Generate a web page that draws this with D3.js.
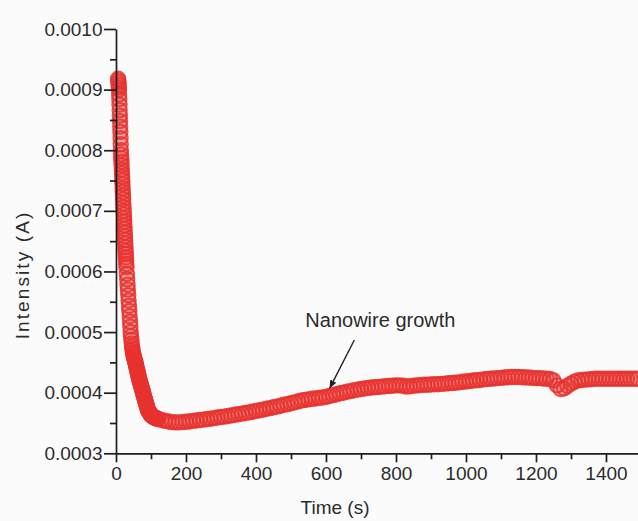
<!DOCTYPE html>
<html>
<head>
<meta charset="utf-8">
<script src="https://cdn.jsdelivr.net/npm/d3@7"></script>
<style>
  body { margin: 0; background: #fbfbfb; }
  svg { display: block; font-family: "Liberation Sans", Arial, sans-serif; }
</style>
</head>
<body>
<svg id="chart" width="638" height="521"></svg>
<script>
// current values are in units of 1e-4 A, time in s
const timeEarly = [6, 6.5, 7, 7.5, 8, 8.5, 9, 9.5, 10, 10.5,
  11, 11.5, 12, 12.5, 13, 13.5, 14, 14.5, 15, 15.5,
  16, 16.5, 17, 17.5, 18, 18.5, 19, 19.5, 20, 20.5,
  21, 21.5, 22, 22.5, 23, 23.5, 24, 24.5, 25, 25.5,
  26, 26.5, 27, 27.5, 28, 28.5, 29, 29.5, 30];
const intensityEarly = [9.18, 9.15, 9.12, 9.08, 9.04, 9.00, 8.92, 8.84, 8.75, 8.66,
  8.57, 8.48, 8.39, 8.30, 8.20, 8.10, 8.00, 7.93, 7.87, 7.81,
  7.75, 7.68, 7.62, 7.56, 7.50, 7.44, 7.37, 7.31, 7.25, 7.19,
  7.12, 7.06, 7.00, 6.94, 6.88, 6.82, 6.76, 6.70, 6.64, 6.58,
  6.52, 6.46, 6.40, 6.34, 6.29, 6.23, 6.18, 6.12, 6.07];

const timeMid = [31, 32, 33, 34, 35, 36, 37, 38, 39, 40,
  41, 42, 43, 44, 45, 46, 47, 48, 49, 50,
  51, 52, 53, 54, 55, 56, 57, 58, 59, 60,
  61, 62, 63, 64, 65, 66, 67, 68, 69, 70,
  71, 72, 73, 74, 75, 76, 77, 78, 79, 80,
  81, 82, 83, 84, 85, 86, 87, 88, 89, 90,
  91, 92, 93, 94, 95, 96, 97, 98, 99, 100,
  102, 104, 106, 108, 110, 112, 114, 116, 118, 120];
const intensityMid = [5.96, 5.87, 5.78, 5.70, 5.61, 5.52, 5.43, 5.35, 5.26, 5.17,
  5.09, 5.00, 4.93, 4.87, 4.81, 4.76, 4.72, 4.68, 4.65, 4.62,
  4.59, 4.57, 4.55, 4.53, 4.51, 4.49, 4.46, 4.43, 4.41, 4.38,
  4.36, 4.33, 4.31, 4.28, 4.26, 4.23, 4.21, 4.19, 4.17, 4.15,
  4.13, 4.11, 4.09, 4.07, 4.05, 4.03, 4.01, 3.98, 3.96, 3.94,
  3.92, 3.90, 3.88, 3.86, 3.84, 3.82, 3.80, 3.78, 3.76, 3.74,
  3.72, 3.71, 3.70, 3.69, 3.68, 3.67, 3.66, 3.65, 3.64, 3.63,
  3.62, 3.61, 3.60, 3.595, 3.59, 3.585, 3.58, 3.575, 3.57, 3.565];

const timeLate = [130, 140, 150, 160, 170, 180, 190, 200,
  210, 220, 230, 240, 250, 260, 270, 280, 290, 300,
  310, 320, 330, 340, 350, 360, 370, 380, 390, 400,
  410, 420, 430, 440, 450, 460, 470, 480, 490, 500,
  510, 520, 530, 540, 550, 560, 570, 580, 590, 600,
  610, 620, 630, 640, 650, 660, 670, 680, 690, 700,
  710, 720, 730, 740, 750, 760, 770, 780, 790, 800,
  810, 820, 830, 840, 850, 860, 870, 880, 890, 900,
  910, 920, 930, 940, 950, 960, 970, 980, 990, 1000,
  1010, 1020, 1030, 1040, 1050, 1060, 1070, 1080, 1090, 1100,
  1110, 1120, 1130, 1140, 1150, 1160, 1170, 1180, 1190, 1200,
  1210, 1220, 1230, 1240, 1250, 1260, 1270, 1280, 1290, 1300,
  1310, 1320, 1330, 1340, 1350, 1360, 1370, 1380, 1390, 1400,
  1410, 1420, 1430, 1440, 1450, 1460, 1470, 1480, 1490];
const intensityLate = [3.55, 3.535, 3.525, 3.515, 3.51, 3.51, 3.515, 3.52,
  3.525, 3.535, 3.54, 3.55, 3.555, 3.565, 3.57, 3.58, 3.59, 3.60,
  3.605, 3.615, 3.625, 3.635, 3.645, 3.655, 3.665, 3.675, 3.685, 3.70,
  3.71, 3.72, 3.735, 3.745, 3.76, 3.77, 3.785, 3.80, 3.81, 3.825,
  3.84, 3.855, 3.87, 3.88, 3.89, 3.90, 3.905, 3.915, 3.92, 3.93,
  3.945, 3.96, 3.975, 3.99, 4.00, 4.015, 4.025, 4.04, 4.05, 4.06,
  4.07, 4.08, 4.085, 4.09, 4.095, 4.10, 4.105, 4.11, 4.115, 4.12,
  4.12, 4.115, 4.10, 4.105, 4.115, 4.12, 4.125, 4.13, 4.13, 4.135,
  4.14, 4.14, 4.145, 4.15, 4.155, 4.16, 4.165, 4.17, 4.18, 4.185,
  4.19, 4.20, 4.205, 4.21, 4.22, 4.225, 4.23, 4.235, 4.24, 4.245,
  4.25, 4.255, 4.26, 4.26, 4.26, 4.255, 4.25, 4.25, 4.245, 4.24,
  4.24, 4.235, 4.23, 4.225, 4.20, 4.12, 4.06, 4.07, 4.11, 4.15,
  4.18, 4.20, 4.21, 4.215, 4.22, 4.225, 4.23, 4.23, 4.23, 4.23,
  4.23, 4.23, 4.23, 4.23, 4.23, 4.23, 4.23, 4.23, 4.23];

const xTicks = [0, 200, 400, 600, 800, 1000, 1200, 1400];
const xMinor = [100, 300, 500, 700, 900, 1100, 1300];
const yTicks = [0.0003, 0.0004, 0.0005, 0.0006, 0.0007, 0.0008, 0.0009, 0.0010];
const yMinor = [0.00035, 0.00045, 0.00055, 0.00065, 0.00075, 0.00085, 0.00095];

const annotation = { label: "Nanowire growth", textT: 541, textI: 0.000508,
  fromT: 681, fromI: 0.000487, toT: 611, toI: 0.000408 };

const scale = 1e-4;
const data = [
  ...timeEarly.map((t, i) => ({ t, v: intensityEarly[i] * scale })),
  ...timeMid.map((t, i) => ({ t, v: intensityMid[i] * scale })),
  ...timeLate.map((t, i) => ({ t, v: intensityLate[i] * scale }))
];

const width = 638, height = 521;
const margin = { top: 29, right: 0.5, bottom: 67.7, left: 116 };

const svg = d3.select("#chart");
svg.append("rect").attr("width", width).attr("height", height).attr("fill", "#fbfbfb");

const x = d3.scaleLinear([0, 1490], [margin.left, width - margin.right]);
const y = d3.scaleLinear([0.0003, 0.0010], [height - margin.bottom, margin.top]);

// markers: open circles, dense enough to merge into a band
svg.append("g")
    .attr("fill", "#e8332f")
    .attr("fill-opacity", 0.25)
    .attr("stroke", "#e8332f")
    .attr("stroke-opacity", 0.85)
    .attr("stroke-width", 2)
  .selectAll("circle")
  .data(data)
  .join("circle")
    .attr("cx", d => x(d.t))
    .attr("cy", d => y(d.v))
    .attr("r", 7.2);

const axisColor = "#1e1e1e";
const labelColor = "#2b2b2b";

function styleAxis(g) {
  g.select(".domain").attr("stroke", axisColor).attr("stroke-width", 1.7);
  g.selectAll(".tick line").attr("stroke", axisColor).attr("stroke-width", 1.7);
  g.selectAll(".tick text").attr("fill", labelColor).style("font-size", "19px");
}

// x axis
svg.append("g")
    .attr("transform", `translate(0,${height - margin.bottom})`)
    .call(d3.axisBottom(x).tickValues(xMinor).tickSize(6).tickFormat(""))
    .call(g => g.select(".domain").remove())
    .call(styleAxis);
svg.append("g")
    .attr("transform", `translate(0,${height - margin.bottom})`)
    .call(d3.axisBottom(x).tickValues(xTicks).tickSize(9).tickSizeOuter(0)
      .tickPadding(4).tickFormat(d3.format("d")))
    .call(styleAxis);

// y axis
svg.append("g")
    .attr("transform", `translate(${margin.left},0)`)
    .call(d3.axisLeft(y).tickValues(yMinor).tickSize(6).tickFormat(""))
    .call(g => g.select(".domain").remove())
    .call(styleAxis);
svg.append("g")
    .attr("transform", `translate(${margin.left},0)`)
    .call(d3.axisLeft(y).tickValues(yTicks).tickSize(12).tickSizeOuter(0)
      .tickPadding(1.5).tickFormat(d3.format(".4f")))
    .call(styleAxis);

// axis titles
svg.append("text")
    .attr("x", 335)
    .attr("y", height - 7)
    .attr("text-anchor", "middle")
    .attr("fill", labelColor)
    .style("font-size", "19px")
    .text("Time (s)");

svg.append("text")
    .attr("transform", "rotate(-90)")
    .attr("x", -275)
    .attr("y", 28.5)
    .attr("text-anchor", "middle")
    .attr("fill", labelColor)
    .style("font-size", "19px")
    .style("letter-spacing", "2.1px")
    .text("Intensity (A)");

// annotation
svg.append("defs").append("marker")
    .attr("id", "arrow")
    .attr("viewBox", "0 0 10 10")
    .attr("refX", 9).attr("refY", 5)
    .attr("markerWidth", 6).attr("markerHeight", 6)
    .attr("orient", "auto")
  .append("path")
    .attr("d", "M0,1L10,5L0,9z")
    .attr("fill", "#222");

svg.append("line")
    .attr("x1", x(annotation.fromT)).attr("y1", y(annotation.fromI))
    .attr("x2", x(annotation.toT)).attr("y2", y(annotation.toI))
    .attr("stroke", "#222")
    .attr("stroke-width", 1.4)
    .attr("marker-end", "url(#arrow)");

svg.append("text")
    .attr("x", x(annotation.textT))
    .attr("y", y(annotation.textI))
    .attr("fill", labelColor)
    .style("font-size", "20px")
    .text(annotation.label);
</script>
</body>
</html>
